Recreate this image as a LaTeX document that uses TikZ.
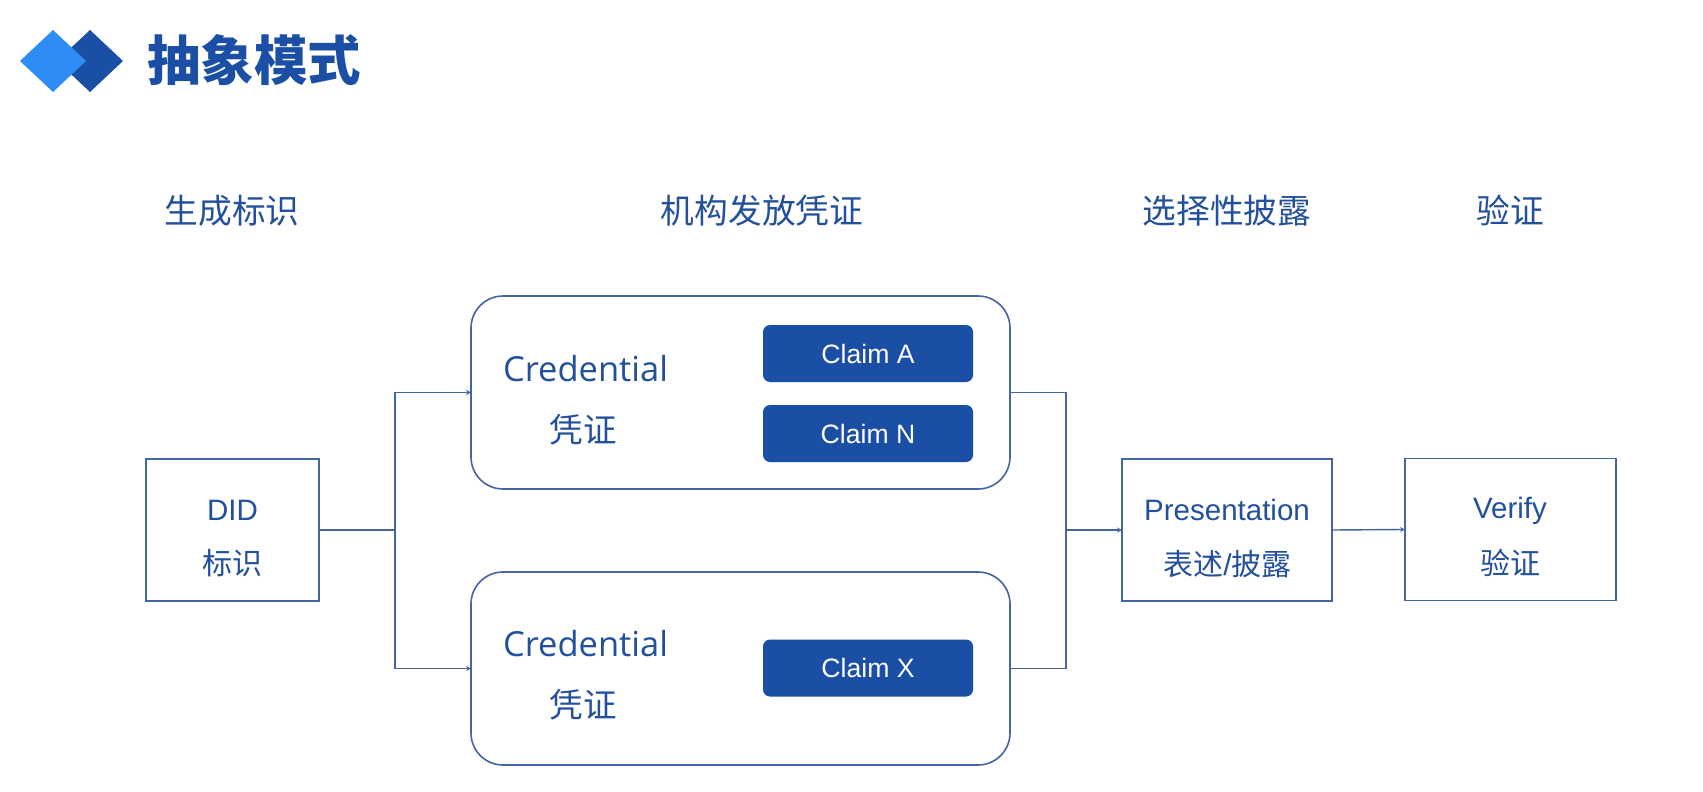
\documentclass[tikz,border=0pt]{standalone}
\usepackage{fontspec}
\usetikzlibrary{arrows.meta,positioning}
\setmainfont{Liberation Sans}
\newfontfamily\cjk{Noto Sans CJK SC}
\newfontfamily\cjkbold{Noto Sans CJK SC Black}
\newfontfamily\credfont{Open Sans}
\definecolor{linec}{HTML}{44659F}
\definecolor{textc}{HTML}{23509C}
\definecolor{darkb}{HTML}{1A4FA5}
\definecolor{lightb}{HTML}{2F8CF7}
\tikzset{
  x=1pt,y=-1pt,
  boxn/.style={draw=linec,line width=1.5pt,fill=white,minimum width=#1,minimum height=142pt,inner sep=0pt,outer sep=0pt},
  cred/.style={draw=linec,line width=1.6pt,fill=white,rounded corners=32pt,minimum width=539pt,minimum height=193pt,inner sep=0pt,outer sep=0pt},
  claim/.style={fill=darkb,rounded corners=7pt,minimum width=210pt,minimum height=57pt,inner sep=0pt,text=white,font=\fontsize{26.6}{27}\selectfont},
  head/.style={text=textc,inner sep=0pt,font=\cjk\fontsize{33.7}{34}\selectfont},
  credlabel/.style={text=textc,inner sep=0pt,font=\credfont\fontsize{34.5}{35}\selectfont},
  cjklabel/.style={text=textc,inner sep=0pt,font=\cjk\fontsize{33.5}{34}\selectfont},
  boxlabel/.style={text=textc,inner sep=0pt,font=\fontsize{29.5}{30}\selectfont},
  boxcjk/.style={text=textc,inner sep=0pt,font=\cjk\fontsize{30}{30}\selectfont},
  conn/.style={draw=linec,line width=1.4pt},
  connarrow/.style={conn,-{Stealth[length=5pt,width=5pt]}},
}
\begin{document}
\begin{tikzpicture}
\useasboundingbox[fill=white] (0,0) rectangle (1703,792);
% logo
\fill[darkb] (90,30) -- (123,61) -- (90,92) -- (57,61) -- cycle;
\fill[lightb] (53,30) -- (86,61) -- (53,92) -- (20,61) -- cycle;
\node[text=darkb,inner sep=0pt,font=\cjkbold\fontsize{53.5}{54}\selectfont] (title) at (254,60) {抽象模式};
% headers
\node[head] (h1) at (232,210.5) {生成标识};
\node[head] (h2) at (762,210.5) {机构发放凭证};
\node[head] (h3) at (1227,210.5) {选择性披露};
\node[head] (h4) at (1510,210.5) {验证};
% boxes
\node[boxn=173pt] (did) at (232.5,530) {};
\node[cred] (cred1) at (740.5,392.5) {};
\node[cred] (cred2) at (740.5,668.5) {};
\node[boxn=210pt] (pres) at (1227,530) {};
\node[boxn=211pt] (verify) at (1510.5,529.5) {};
% claims
\node[claim] (ca) at (868,353.5) {Claim A};
\node[claim] (cn) at (868,433.5) {Claim N};
\node[claim] (cx) at (868,668) {Claim X};
% labels
\node[boxlabel] (didt) at (232.5,510) {DID};
\node[boxcjk] (didc) at (232.5,563) {标识};
\node[credlabel] (c1t) at (585.5,368.5) {Credential};
\node[cjklabel] (c1c) at (583,430) {凭证};
\node[credlabel] (c2t) at (585.5,644) {Credential};
\node[cjklabel] (c2c) at (583,705) {凭证};
\node[boxlabel] (prest) at (1227,510) {Presentation};
\node[boxcjk] (presc) at (1227.5,564) {表述{\rmfamily\fontsize{30}{30}\selectfont/}披露};
\node[boxlabel] (verit) at (1510,511) {Verify};
\node[boxcjk] (veric) at (1510,563) {验证};
% connectors
\coordinate (jl) at (395,530);
\coordinate (jr) at (1066,530);
\draw[conn] (did.east) -- (jl);
\draw[connarrow] (jl) |- (cred1.west);
\draw[connarrow] (jl) |- (cred2.west);
\draw[conn] (cred1.east) -| (jr);
\draw[conn] (cred2.east) -| (jr);
\draw[connarrow] (jr) -- (pres.west);
\draw[connarrow] (pres.east) -- (verify.west);
\end{tikzpicture}
\end{document}
